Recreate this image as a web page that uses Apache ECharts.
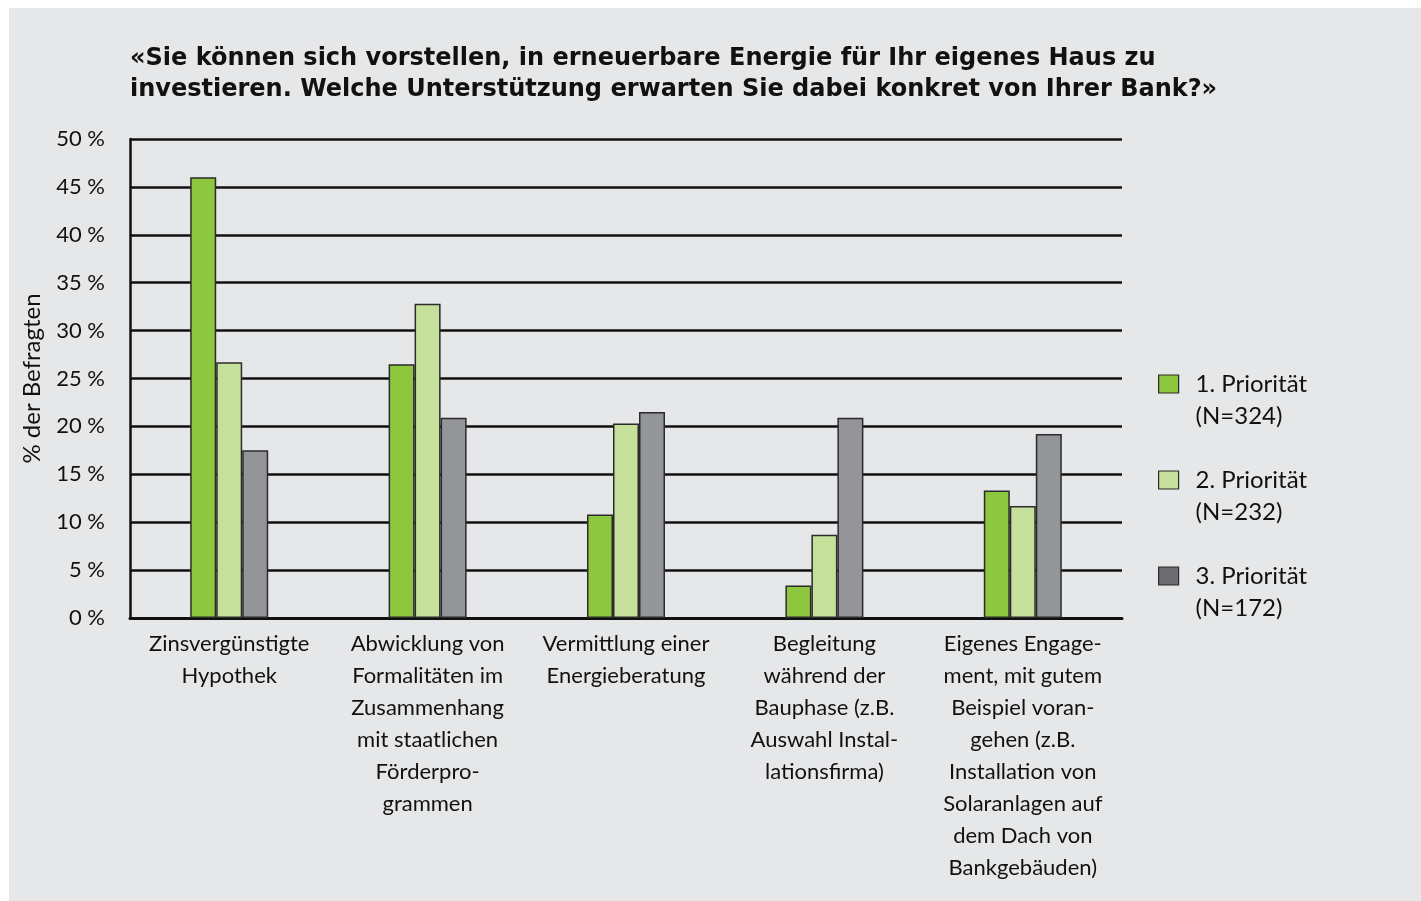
<!DOCTYPE html>
<html>
<head>
<meta charset="utf-8">
<script src="https://cdn.jsdelivr.net/npm/echarts@6/dist/echarts.min.js"></script>
<style>
  html, body { margin: 0; padding: 0; background: #fff; }
  #chart { width: 1421px; height: 901px; }
</style>
</head>
<body>
<div id="chart"></div>
<script>
var categories = [
  'Zinsvergünstigte\nHypothek',
  'Abwicklung von\nFormalitäten im\nZusammenhang\nmit staatlichen\nFörderpro-\ngrammen',
  'Vermittlung einer\nEnergieberatung',
  'Begleitung\nwährend der\nBauphase (z.B.\nAuswahl Instal-\nlationsfirma)',
  'Eigenes Engage-\nment, mit gutem\nBeispiel voran-\ngehen (z.B.\nInstallation von\nSolaranlagen auf\ndem Dach von\nBankgebäuden)'
]
var seriesNames = ['1. Priorität\n(N=324)', '2. Priorität\n(N=232)', '3. Priorität\n(N=172)']
var prio1 = [46.0, 26.5, 10.8, 3.4, 13.3]
var prio2 = [26.7, 32.8, 20.3, 8.7, 11.7]
var prio3 = [17.5, 20.9, 21.5, 20.9, 19.2]
var yTicks = [0, 5, 10, 15, 20, 25, 30, 35, 40, 45, 50]

var colors = ['#8dc63f', '#c5e09b', '#939598']
var legendColors = ['#8dc63f', '#c5e09b', '#6d6e71']
var font = 'Lato, "Open Sans", sans-serif'

var chart = echarts.init(document.getElementById('chart'))

function bar(name, data, i) {
  return {
    name: name,
    type: 'bar',
    data: data,
    barWidth: 26,
    barGap: '0%',
    itemStyle: { color: colors[i], borderColor: '#2b2b2b', borderWidth: 1.5 }
  }
}

chart.setOption({
  animation: false,
  textStyle: { fontFamily: font, color: '#111' },
  graphic: [{
    type: 'rect', left: 9, top: 8, z: -10,
    shape: { width: 1412, height: 893 },
    style: { fill: '#e6e7e8' }
  }],
  title: {
    text: '«Sie können sich vorstellen, in erneuerbare Energie für Ihr eigenes Haus zu\ninvestieren. Welche Unterstützung erwarten Sie dabei konkret von Ihrer Bank?»',
    left: 125,
    top: 38,
    textStyle: { fontFamily: '"DejaVu Sans", sans-serif', fontWeight: 'bold', fontSize: 24, lineHeight: 31, color: '#111' }
  },
  legend: {
    orient: 'vertical',
    left: 1153,
    top: 331,
    itemWidth: 20,
    itemHeight: 18,
    itemGap: 0,
    icon: 'rect',
    selectedMode: false,
    formatter: function (n) { return '\n' + n },
    data: seriesNames.map(function (n, i) {
      return { name: n, itemStyle: { color: legendColors[i], borderColor: '#2b2b2b', borderWidth: 1.2 } }
    }),
    textStyle: { fontFamily: font, fontSize: 24, lineHeight: 32, color: '#111', padding: [0, 0, 0, 12] }
  },
  grid: { left: 130, right: 299, top: 139, bottom: 283, containLabel: false },
  xAxis: {
    type: 'category',
    data: categories,
    axisLine: { lineStyle: { color: '#111', width: 3 } },
    axisTick: { inside: true, length: 10, lineStyle: { color: '#111', width: 2 } },
    axisLabel: { interval: 0, fontSize: 22, lineHeight: 32, margin: 10, color: '#111', fontFamily: font }
  },
  yAxis: {
    type: 'value',
    min: yTicks[0],
    max: yTicks[yTicks.length - 1],
    interval: 5,
    name: '% der Befragten',
    nameLocation: 'middle',
    nameGap: 86,
    nameTextStyle: { fontSize: 24, color: '#111', fontFamily: font },
    axisLine: { show: true, lineStyle: { color: '#111', width: 2.5 } },
    axisTick: { show: false },
    axisLabel: { formatter: '{value} %', fontSize: 22, margin: 25, color: '#111', fontFamily: font },
    splitLine: { lineStyle: { color: '#111', width: 2.5 } }
  },
  series: [bar(seriesNames[0], prio1, 0), bar(seriesNames[1], prio2, 1), bar(seriesNames[2], prio3, 2)]
})
</script>
</body>
</html>
